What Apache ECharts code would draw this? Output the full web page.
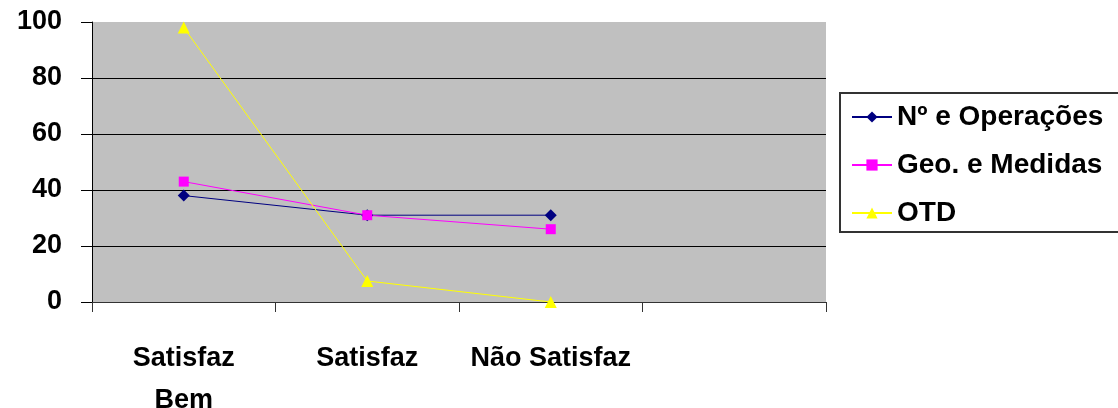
<!DOCTYPE html>
<html>
<head>
<meta charset="utf-8">
<script src="https://cdn.jsdelivr.net/npm/echarts@6/dist/echarts.min.js"></script>
<style>
  html, body { margin: 0; padding: 0; background: #fff; }
  #chart { width: 1118px; height: 408px; }
</style>
</head>
<body>
<div id="chart"></div>
<script>
const categories = ['Satisfaz\nBem', 'Satisfaz', 'Não Satisfaz', ''];
const numOperacoes = [38, 31, 31];
const geoMedidas = [43, 31, 26];
const otd = [98, 7.5, 0];

const chart = echarts.init(document.getElementById('chart'));
const font = 'Liberation Sans';

chart.setOption({
    animation: false,
    grid: {
        left: 92, top: 22, right: 292, bottom: 106,
        outerBoundsMode: 'none', containLabel: false,
        show: true, backgroundColor: '#c0c0c0', borderWidth: 0
    },
    legend: {
        orient: 'vertical',
        left: 840, top: 93,
        padding: [9, 40, 4, 11],
        itemWidth: 40, itemHeight: 14, itemGap: 18,
        borderColor: '#333', borderWidth: 2,
        textStyle: { fontFamily: font, fontWeight: 'bold', fontSize: 28, lineHeight: 30, color: '#000' },
        data: ['Nº e Operações', 'Geo. e Medidas', 'OTD']
    },
    xAxis: {
        type: 'category',
        data: categories,
        axisLine: { show: true, lineStyle: { color: '#333', width: 1 } },
        axisTick: { show: true, alignWithLabel: false, interval: 0, length: 10, lineStyle: { color: '#333', width: 1 } },
        axisLabel: {
            margin: 36, fontFamily: font, fontWeight: 'bold', fontSize: 27,
            lineHeight: 42, color: '#000', interval: 0
        }
    },
    yAxis: {
        type: 'value',
        min: 0, max: 100, interval: 20,
        axisLine: { show: true, lineStyle: { color: '#000' } },
        axisTick: { show: true, length: 11, lineStyle: { color: '#000' } },
        axisLabel: { margin: 30, fontFamily: font, fontWeight: 'bold', fontSize: 27, color: '#000' },
        splitLine: { show: true, showMaxLine: false, lineStyle: { color: '#000', width: 1 } }
    },
    series: [
        {
            name: 'Nº e Operações', type: 'line', data: numOperacoes,
            symbol: 'diamond', symbolSize: 12,
            itemStyle: { color: '#000080' }, lineStyle: { color: '#000080', width: 1 }
        },
        {
            name: 'Geo. e Medidas', type: 'line', data: geoMedidas,
            symbol: 'rect', symbolSize: 10,
            itemStyle: { color: '#ff00ff' }, lineStyle: { color: '#ff00ff', width: 1 }
        },
        {
            name: 'OTD', type: 'line', data: otd,
            symbol: 'triangle', symbolSize: 12,
            itemStyle: { color: '#ffff00' }, lineStyle: { color: '#ffff00', width: 1 }
        }
    ]
});

window.addEventListener('resize', () => chart.resize());
</script>
</body>
</html>
